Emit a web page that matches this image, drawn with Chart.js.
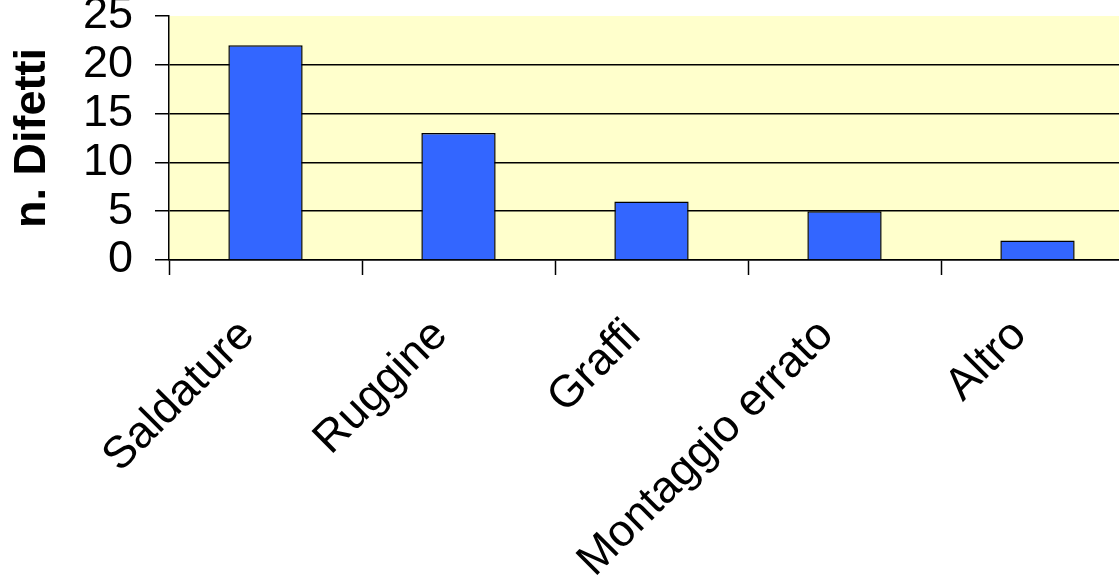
<!DOCTYPE html>
<html>
<head>
<meta charset="utf-8">
<script src="https://cdn.jsdelivr.net/npm/chart.js@4/dist/chart.umd.min.js"></script>
<style>
  html, body { margin: 0; padding: 0; background: #fff; overflow: hidden; }
  body { width: 1119px; height: 586px; position: relative; }
  #wrap { position: absolute; left: 0; top: -33px; width: 1134px; height: 620px; }
</style>
</head>
<body>
<div id="wrap"><canvas id="difetti"></canvas></div>
<script>
const categories = ['Saldature', 'Ruggine', 'Graffi', 'Montaggio errato', 'Altro'];
const defectCounts = [22, 13, 6, 5, 2];
const yTicks = [0, 5, 10, 15, 20, 25];

const FONT = "'Liberation Sans', Arial, sans-serif";

// fill the plot area with the pale yellow background
const plotBackground = {
  id: 'plotBackground',
  beforeDraw(chart) {
    const { ctx, chartArea } = chart;
    ctx.save();
    ctx.fillStyle = '#FFFFCC';
    ctx.fillRect(chartArea.left, chartArea.top, chartArea.right - chartArea.left, chartArea.bottom - chartArea.top);
    ctx.restore();
  }
};

const ctx = document.getElementById('difetti').getContext('2d');
new Chart(ctx, {
  type: 'bar',
  data: {
    labels: categories,
    datasets: [{
      label: 'n. Difetti',
      data: defectCounts,
      backgroundColor: '#3366FF',
      borderColor: '#000000',
      borderWidth: 1.5,
      categoryPercentage: 0.385,
      barPercentage: 1
    }]
  },
  options: {
    responsive: true,
    maintainAspectRatio: false,
    animation: false,
    layout: { padding: 0 },
    plugins: {
      legend: { display: false },
      tooltip: { enabled: false }
    },
    scales: {
      x: {
        offset: true,
        grid: {
          offset: true,
          drawOnChartArea: false,
          drawTicks: true,
          tickLength: 15,
          tickColor: '#000',
          tickWidth: 1.5,
          color: '#000'
        },
        border: { display: true, color: '#000', width: 1.5 },
        ticks: {
          autoSkip: false,
          maxRotation: 45,
          minRotation: 45,
          padding: 34,
          labelOffset: -18,
          color: '#000',
          font: { family: FONT, size: 45 }
        },
        afterFit(scale) { scale.height = 327; }
      },
      y: {
        min: 0,
        max: 25,
        afterBuildTicks(scale) {
          scale.ticks = yTicks.map(v => ({ value: v }));
        },
        grid: {
          color: c => (c.tick && c.tick.value === 25 ? 'rgba(0,0,0,0)' : '#000'),
          lineWidth: 1.5,
          tickLength: 14,
          tickColor: '#000',
          tickWidth: 1.5
        },
        border: { display: true, color: '#000', width: 1.5 },
        ticks: {
          autoSkip: false,
          padding: 22,
          color: '#000',
          font: { family: FONT, size: 45 }
        },
        title: {
          display: true,
          text: 'n. Difetti',
          color: '#000',
          padding: { top: 6, bottom: 0 },
          font: { family: FONT, size: 45, weight: 'bold' }
        },
        afterFit(scale) { scale.width = 169; }
      }
    }
  },
  plugins: [plotBackground]
});
</script>
</body>
</html>
